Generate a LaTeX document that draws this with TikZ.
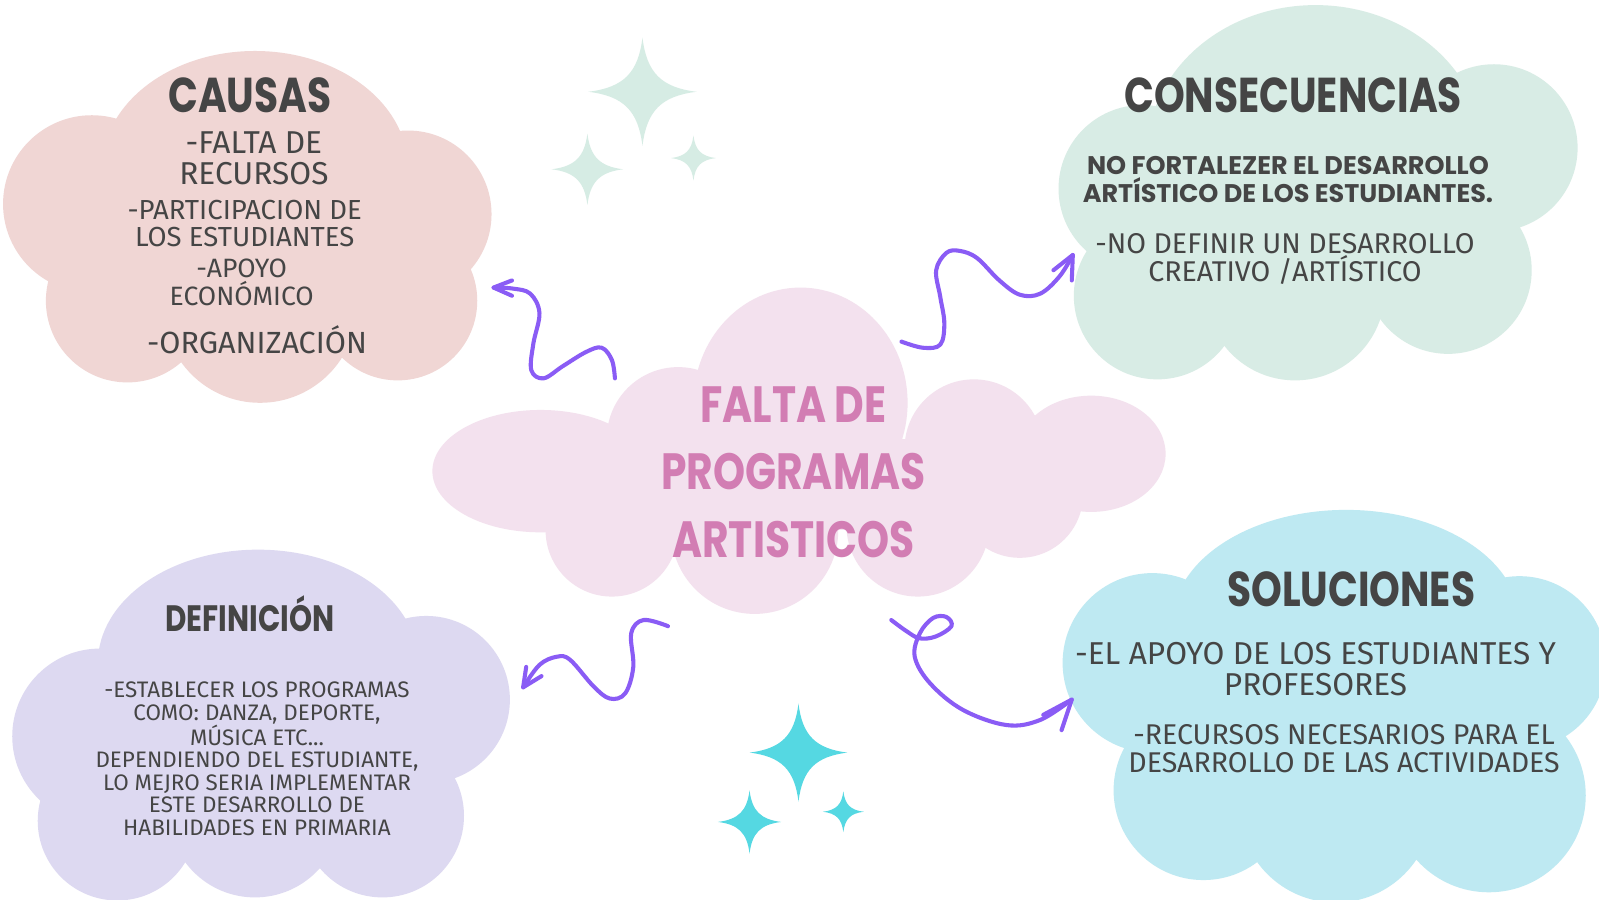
\documentclass[tikz,border=0pt]{standalone}
\usepackage{fontspec}
\setmainfont{Fira Sans}
\newfontfamily\titlefont{Poppins}[FakeStretch=0.8]
\newfontfamily\boldfont{Poppins}
\newfontfamily\bodyfont{Fira Sans}
\definecolor{causasC}{HTML}{F0D6D4}
\definecolor{consC}{HTML}{D8ECE5}
\definecolor{defC}{HTML}{DDD9F1}
\definecolor{solC}{HTML}{BEE9F2}
\definecolor{centC}{HTML}{F3E1EE}
\definecolor{inkC}{HTML}{454545}
\definecolor{pinkC}{HTML}{D27DB3}
\definecolor{arrowC}{HTML}{8A5CF5}
\definecolor{starA}{HTML}{D6ECE4}
\definecolor{starB}{HTML}{55D8E2}
\newcommand\sparkle[4]{\fill[#4,shift={(#1,#2)},scale=#3] (0,-1) .. controls (0.08,-0.35) and (0.35,-0.08) .. (1,0) .. controls (0.35,0.08) and (0.08,0.35) .. (0,1) .. controls (-0.08,0.35) and (-0.35,0.08) .. (-1,0) .. controls (-0.35,-0.08) and (-0.08,-0.35) .. (0,-1) -- cycle;}
\tikzset{
  arr/.style={draw=arrowC,line width=4,line cap=round,line join=round},
  ttl/.style={text=inkC,font=\titlefont\bfseries\fontsize{48}{48}\selectfont,inner sep=0pt},
  bodytxt/.style={text=inkC,align=center,inner sep=0pt},
}
\begin{document}
\begin{tikzpicture}[x=1pt,y=-1pt]
\useasboundingbox (0,0) rectangle (1568,882);
\fill[white] (0,0) rectangle (1568,882);
\begin{scope}
\clip (0,0) rectangle (1568,882);
% Causas cloud
\fill[causasC] (250,165) ellipse[x radius=150,y radius=115];
\fill[causasC] (90,200) circle[radius=87];
\fill[causasC] (400,210) circle[radius=82];
\fill[causasC] (125,295) circle[radius=80];
\fill[causasC] (255,300) circle[radius=95];
\fill[causasC] (390,295) circle[radius=78];
\fill[causasC] (100,150) rectangle (400,320);
% Consecuencias cloud
\fill[consC] (1290,150) ellipse[x radius=165,y radius=145];
\fill[consC] (1120,185) circle[radius=82];
\fill[consC] (1465,145) circle[radius=82];
\fill[consC] (1135,290) circle[radius=82];
\fill[consC] (1270,285) circle[radius=88];
\fill[consC] (1420,265) circle[radius=82];
\fill[consC] (1120,150) rectangle (1460,300);
% Definicion cloud
\fill[defC] (253,650) ellipse[x radius=157,y radius=111];
\fill[defC] (98,722) circle[radius=86];
\fill[defC] (418,686) circle[radius=82];
\fill[defC] (115,805) circle[radius=78];
\fill[defC] (250,795) circle[radius=85];
\fill[defC] (375,800) circle[radius=80];
\fill[defC] (100,660) rectangle (420,810);
% Soluciones cloud
\fill[solC] (1320,610) ellipse[x radius=170,y radius=110];
\fill[solC] (1130,650) circle[radius=88];
\fill[solC] (1490,650) circle[radius=85];
\fill[solC] (1180,775) circle[radius=88];
\fill[solC] (1310,790) circle[radius=95];
\fill[solC] (1460,780) circle[radius=95];
\fill[solC] (1130,640) rectangle (1500,790);
% Central cloud
\fill[centC] (530,462) ellipse[x radius=106,y radius=60];
\fill[centC] (665,430) circle[radius=70];
\fill[centC] (785,395) ellipse[x radius=105,y radius=113];
\fill[centC] (955,440) circle[radius=68];
\fill[centC] (1070,445) ellipse[x radius=73,y radius=57];
\fill[centC] (600,520) circle[radius=65];
\fill[centC] (740,520) circle[radius=82];
\fill[centC] (900,515) circle[radius=70];
\fill[centC] (1000,485) circle[radius=62];
\fill[centC] (560,430) rectangle (1010,520);
% stars
\sparkle{630}{90}{53}{starA}
\sparkle{576}{166}{35}{starA}
\sparkle{680}{155}{22}{starA}
\sparkle{783}{738}{48}{starB}
\sparkle{735}{806}{31}{starB}
\sparkle{827}{796}{20}{starB}
\end{scope}
% texts
\node[ttl] (causasT) at (245,93) {CAUSAS};
\node[bodytxt,font=\bodyfont\fontsize{31}{30}\selectfont] (causas1) at (249,155) {-FALTA DE\\RECURSOS};
\node[bodytxt,font=\bodyfont\fontsize{27}{26}\selectfont] (causas2) at (240,219) {-PARTICIPACION DE\\LOS ESTUDIANTES};
\node[bodytxt,font=\bodyfont\fontsize{26}{27}\selectfont] (causas3) at (237,277) {-APOYO\\ECONÓMICO};
\node[bodytxt,font=\bodyfont\fontsize{30}{30}\selectfont] (causas4) at (252,333) {-ORGANIZACIÓN};
\node[ttl] (consT) at (1268,93) {CONSECUENCIAS};
\node[bodytxt,font=\boldfont\bfseries\fontsize{25}{27}\selectfont] (cons1) at (1263,176) {NO FORTALEZER EL DESARROLLO\\ARTÍSTICO DE LOS ESTUDIANTES.};
\node[bodytxt,font=\bodyfont\fontsize{28}{28}\selectfont] (cons2) at (1260,254) {-NO DEFINIR UN DESARROLLO\\CREATIVO /ARTÍSTICO};
\node[ttl,font=\titlefont\bfseries\fontsize{36}{36}\selectfont] (defT) at (245,602) {DEFINICIÓN};
\node[bodytxt,font=\bodyfont\fontsize{22}{22}\selectfont] (def1) at (252,744) {-ESTABLECER LOS PROGRAMAS\\COMO: DANZA, DEPORTE,\\MÚSICA ETC...\\DEPENDIENDO DEL ESTUDIANTE,\\LO MEJRO SERIA IMPLEMENTAR\\ESTE DESARROLLO DE\\HABILIDADES EN PRIMARIA};
\node[ttl] (solT) at (1325,578) {SOLUCIONES};
\node[bodytxt,font=\bodyfont\fontsize{31}{30}\selectfont] (sol1) at (1290,656) {-EL APOYO DE LOS ESTUDIANTES Y\\PROFESORES};
\node[bodytxt,font=\bodyfont\fontsize{28}{27}\selectfont] (sol2) at (1318,734) {-RECURSOS NECESARIOS PARA EL\\DESARROLLO DE LAS ACTIVIDADES};
\node[align=center,text=pinkC,inner sep=0pt,font=\titlefont\bfseries\fontsize{50}{66.5}\selectfont] (centT) at (778,463) {FALTA DE\\PROGRAMAS\\ARTISTICOS};
% arrows
\coordinate (a1tail) at (603,371);
\coordinate (a1tip) at (484,282);
\draw[arr] plot[smooth,tension=0.6] coordinates {(a1tail) (600,353) (590,341) (575,345) (552,359) (533,371) (521,363) (523,337) (529,307) (520,288) (503,283) (a1tip)};
\draw[arr] (502,275) -- (a1tip) -- (502,290);
\coordinate (a2tail) at (884,335);
\coordinate (a2tip) at (1052,250);
\draw[arr] plot[smooth,tension=0.6] coordinates {(a2tail) (905,341) (922,338) (926,317) (922,291) (918,265) (928,248) (941,246) (958,253) (980,275) (1000,289) (1020,288) (1039,271) (a2tip)};
\draw[arr] (1033,265) -- (a2tip) -- (1051,275);
\coordinate (a3tail) at (655,614);
\coordinate (a3tip) at (513,674);
\draw[arr] plot[smooth,tension=0.6] coordinates {(a3tail) (631,608) (619,621) (621,654) (613,680) (598,685) (582,673) (559,647) (546,644) (529,652) (a3tip)};
\draw[arr] (516,654) -- (a3tip) -- (531,663);
\coordinate (a4tail) at (874,608);
\coordinate (a4tip) at (1051,686);
\draw[arr] plot[smooth,tension=0.6] coordinates {(a4tail) (889,619) (902,626) (918,624) (933,614) (928,605) (915,606) (902,621) (897,644) (912,670) (944,696) (987,711) (1020,706) (a4tip)};
\draw[arr] (1023,701) -- (a4tip) -- (1041,716);
\end{tikzpicture}
\end{document}
